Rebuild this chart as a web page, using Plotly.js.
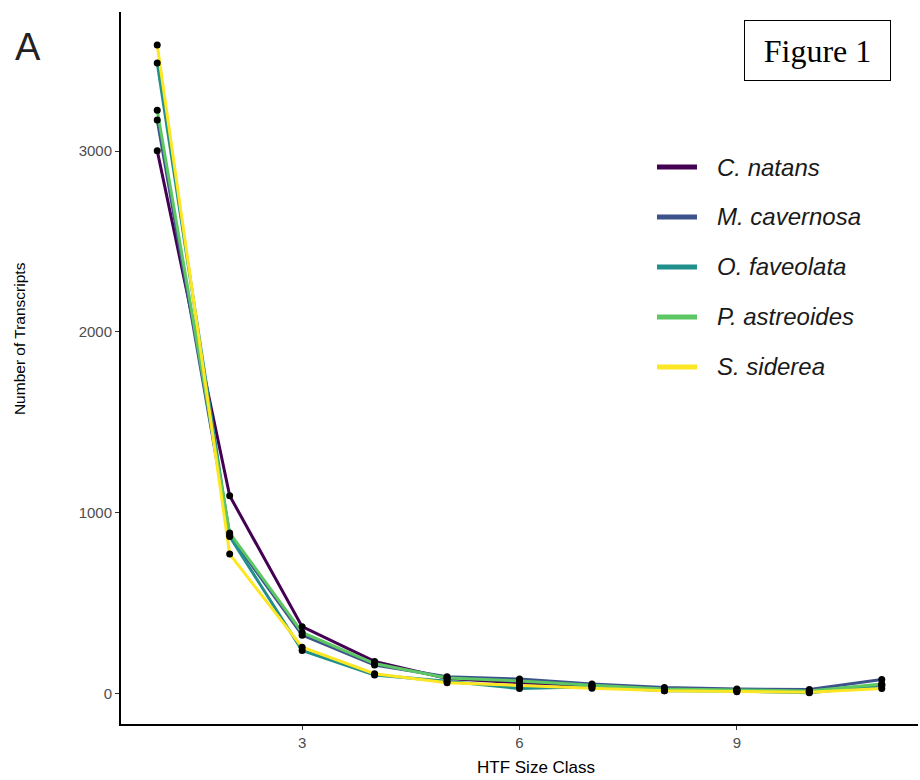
<!DOCTYPE html>
<html>
<head>
<meta charset="utf-8">
<script src="https://cdn.plot.ly/plotly-3.0.1.min.js"></script>
<style>
  html, body { margin: 0; padding: 0; background: #ffffff; }
  #chart { width: 920px; height: 780px; }
</style>
</head>
<body>
<div id="chart"></div>
<script>
// HTF size classes on the x axis
const sizeClass = [1, 2, 3, 4, 5, 6, 7, 8, 9, 10, 11];

// Number of transcripts per size class, one array per species
const cNatans     = [3002, 1095, 372, 180, 85, 62, 46, 28, 20, 15, 50];
const mCavernosa  = [3171,  880, 325, 160, 95, 82, 55, 36, 28, 24, 80];
const oFaveolata  = [3486,  870, 240, 105, 70, 30, 40, 18, 16,  6, 45];
const pAstreoides = [3225,  890, 340, 168, 88, 72, 48, 28, 22, 17, 55];
const sSiderea    = [3586,  773, 258, 112, 62, 45, 32, 18, 12, 10, 30];

const speciesNames = ["C. natans", "M. cavernosa", "O. faveolata", "P. astreoides", "S. siderea"];
const speciesValues = [cNatans, mCavernosa, oFaveolata, pAstreoides, sSiderea];
const speciesColors = ["#440154", "#3B528B", "#21908C", "#5DC863", "#FDE725"];

const yTicks = [0, 1000, 2000, 3000];
const xTicks = [3, 6, 9];

const traces = [];

// Lines, one per species
speciesNames.forEach((name, i) => {
  traces.push({
    type: "scatter", mode: "lines",
    x: sizeClass, y: speciesValues[i],
    name: name, showlegend: false,
    line: { color: speciesColors[i], width: 3 },
    hoverinfo: "x+y+name"
  });
});

// Points drawn above every line
speciesNames.forEach((name, i) => {
  traces.push({
    type: "scatter", mode: "markers",
    x: sizeClass, y: speciesValues[i],
    name: name, showlegend: false,
    marker: { color: "#000000", size: 7 },
    hoverinfo: "x+y+name"
  });
});

// Key: a coloured stroke and an italic label for each species
const keyTop = 0.7823;      // paper y of the first key row
const keyStep = 0.0702;     // paper distance between rows
const keyShapes = [];
const keyLabels = [];
speciesNames.forEach((name, i) => {
  const yk = keyTop - i * keyStep;
  keyShapes.push({
    type: "line", xref: "paper", yref: "paper",
    x0: 0.6725, x1: 0.7227, y0: yk, y1: yk,
    line: { color: speciesColors[i], width: 5 }
  });
  keyLabels.push({
    text: name, xref: "paper", yref: "paper",
    x: 0.745, y: yk, xanchor: "left", yanchor: "middle",
    showarrow: false,
    font: { size: 24, color: "#1a1a1a", family: "Liberation Sans, Arial, sans-serif", style: "italic" }
  });
});

const layout = {
  width: 920, height: 780,
  paper_bgcolor: "#ffffff", plot_bgcolor: "#ffffff",
  margin: { l: 121, r: 2, t: 12, b: 56 },
  font: { family: "Liberation Sans, Arial, sans-serif", color: "#000000" },
  showlegend: false,
  xaxis: {
    range: [0.5, 11.5],
    tickvals: xTicks, ticktext: xTicks.map(String),
    showgrid: false, zeroline: false,
    showline: true, linecolor: "#000000", linewidth: 2,
    ticks: "outside", ticklen: 4, tickcolor: "#333333", tickwidth: 1,
    tickfont: { size: 15, color: "#4d4d4d" }
  },
  yaxis: {
    range: [-166, 3768],
    tickvals: yTicks, ticktext: yTicks.map(String),
    showgrid: false, zeroline: false,
    showline: true, linecolor: "#000000", linewidth: 2,
    ticks: "outside", ticklen: 4, tickcolor: "#333333", tickwidth: 1,
    tickfont: { size: 15, color: "#4d4d4d" }
  },
  shapes: keyShapes,
  annotations: [
    // axis titles
    {
      text: "HTF Size Class", xref: "paper", yref: "paper",
      x: 0.5207, y: -0.0604, xanchor: "center", yanchor: "middle",
      showarrow: false,
      font: { size: 17, color: "#000000" }
    },
    {
      text: "Number of Transcripts", xref: "paper", yref: "paper",
      x: -0.128, y: 0.542, xanchor: "center", yanchor: "middle",
      textangle: -90, showarrow: false,
      font: { size: 15.5, color: "#000000" }
    },
    // panel letter
    {
      text: "A", xref: "paper", yref: "paper",
      x: -0.1167, y: 0.951, xanchor: "center", yanchor: "middle",
      showarrow: false,
      font: { size: 38, color: "#222222", family: "Liberation Sans, Arial, sans-serif" }
    },
    // boxed figure label
    {
      text: "Figure 1", xref: "paper", yref: "paper",
      x: 0.874, y: 0.946, xanchor: "center", yanchor: "middle",
      showarrow: false,
      font: { size: 32, color: "#000000", family: "Liberation Serif, Times New Roman, serif" },
      bordercolor: "#000000", borderwidth: 1, borderpad: 10,
      width: 125, height: 39, bgcolor: "#ffffff"
    }
  ].concat(keyLabels)
};

Plotly.newPlot("chart", traces, layout, { displayModeBar: false });
</script>
</body>
</html>
